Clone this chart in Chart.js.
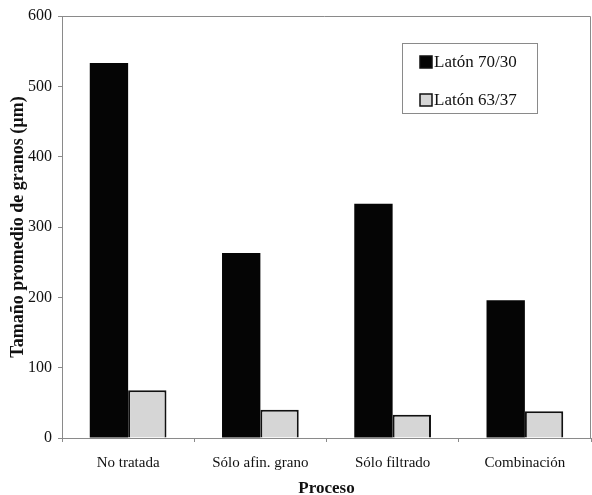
<!DOCTYPE html>
<html>
<head>
<meta charset="utf-8">
<script src="https://cdn.jsdelivr.net/npm/chart.js@4/dist/chart.umd.min.js"></script>
<style>
html,body{margin:0;padding:0;background:#fff;}
#wrap{width:592px;height:495px;position:relative;}
</style>
</head>
<body>
<div id="wrap"><canvas id="c" width="592" height="495"></canvas></div>
<script>
const categories = ["No tratada", "Sólo afin. grano", "Sólo filtrado", "Combinación"];
const seriesNames = ["Latón 70/30", "Latón 63/37"];
const laton7030 = [533, 263, 333, 196];
const laton6337 = [68, 40, 33, 38];
const yTicks = [0, 100, 200, 300, 400, 500, 600];

const FONT = "'Liberation Serif', 'DejaVu Serif', serif";

const framePlugin = {
  id: 'frame',
  afterDatasetsDraw(chart) {
    const ctx = chart.ctx, a = chart.chartArea;
    ctx.save();
    ctx.strokeStyle = '#8a8a8a';
    ctx.lineWidth = 1;
    ctx.beginPath();
    ctx.moveTo(a.left - 4, a.top + 0.5);
    ctx.lineTo(a.right - 0.5, a.top + 0.5);
    ctx.lineTo(a.right - 0.5, a.bottom);
    ctx.stroke();
    ctx.restore();
  }
};

const legendPlugin = {
  id: 'boxLegend',
  afterDraw(chart) {
    const ctx = chart.ctx;
    const x0 = 402, y0 = 43, w = 135, h = 70;
    ctx.save();
    ctx.fillStyle = '#fff';
    ctx.fillRect(x0, y0, w, h);
    ctx.strokeStyle = '#8a8a8a';
    ctx.lineWidth = 1;
    ctx.strokeRect(x0 + 0.5, y0 + 0.5, w, h);
    ctx.font = "17px " + FONT;
    ctx.textBaseline = 'middle';
    chart.data.datasets.forEach((ds, i) => {
      const yy = y0 + 19 + i * 38;
      ctx.fillStyle = ds.backgroundColor;
      ctx.fillRect(x0 + 18, yy - 6, 12, 12);
      ctx.strokeStyle = '#111';
      ctx.lineWidth = 1.5;
      ctx.strokeRect(x0 + 18, yy - 6, 12, 12);
      ctx.fillStyle = '#111';
      ctx.fillText(ds.label, x0 + 32, yy + 1);
    });
    ctx.restore();
  }
};

new Chart(document.getElementById('c'), {
  type: 'bar',
  data: {
    labels: categories,
    datasets: [
      { label: seriesNames[0], data: laton7030, backgroundColor: '#050505', borderColor: '#050505', borderWidth: 0 },
      { label: seriesNames[1], data: laton6337, backgroundColor: '#d6d6d6', borderColor: '#111', borderWidth: 2 }
    ]
  },
  options: {
    responsive: false,
    animation: false,
    layout: { padding: { top: 16, right: 1, left: 8, bottom: 0 } },
    datasets: { bar: { categoryPercentage: 0.58, barPercentage: 1.0 } },
    plugins: {
      legend: { display: false },
      tooltip: { enabled: false }
    },
    scales: {
      x: {
        offset: true,
        grid: { offset: true, drawOnChartArea: false, color: '#8a8a8a', tickLength: 4 },
        border: { color: '#8a8a8a', width: 1 },
        ticks: { color: '#111', font: { family: FONT, size: 15 }, padding: 12, maxRotation: 0 },
        title: { display: true, text: 'Proceso', color: '#111', font: { family: FONT, size: 17, weight: 'bold' }, padding: { top: 9, bottom: -4 } },
        afterFit(s) { s.height = 57; }
      },
      y: {
        min: 0, max: 600,
        afterBuildTicks(s) { s.ticks = yTicks.map(v => ({ value: v })); },
        grid: { drawOnChartArea: false, color: '#8a8a8a', tickLength: 4 },
        border: { color: '#8a8a8a', width: 1 },
        ticks: { color: '#111', font: { family: FONT, size: 16 }, padding: 6 },
        title: { display: true, text: 'Tamaño promedio de granos (µm)', color: '#111', font: { family: FONT, size: 18, weight: 'bold' }, padding: { top: 0, bottom: 4 } },
        afterFit(s) { s.width = 54; }
      }
    }
  },
  plugins: [framePlugin, legendPlugin]
});
</script>
</body>
</html>
